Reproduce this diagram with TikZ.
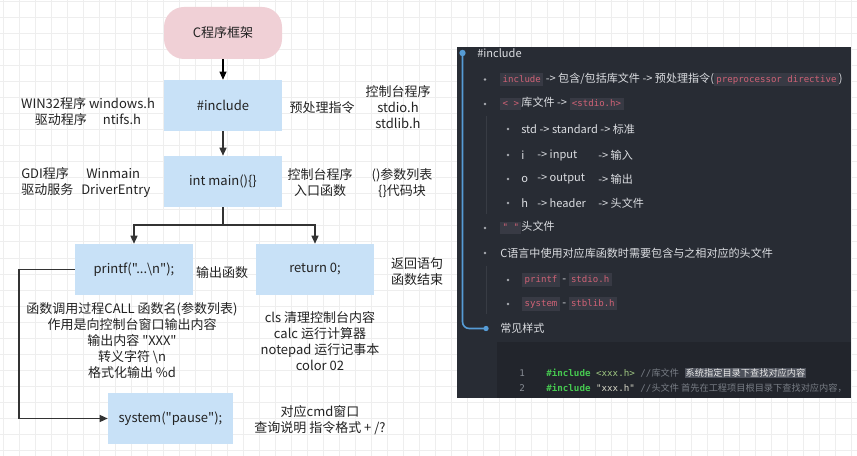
\documentclass[tikz,border=0pt]{standalone}
\usepackage{fontspec}
\setmainfont{Noto Sans CJK SC}
\newfontfamily\cjk{Noto Sans CJK SC}
\newfontfamily\codefont{DejaVu Sans Mono}
\usetikzlibrary{arrows.meta}
\definecolor{gridc}{RGB}{238,238,238}
\definecolor{boxblue}{RGB}{200,225,247}
\definecolor{startpink}{RGB}{240,208,214}
\definecolor{txtc}{RGB}{34,34,34}
\definecolor{linec}{RGB}{51,51,51}
\definecolor{panelbg}{RGB}{40,44,52}
\definecolor{codebg}{RGB}{34,37,44}
\definecolor{ptext}{RGB}{220,222,226}
\definecolor{pillbg}{RGB}{56,58,68}
\definecolor{pillfg}{RGB}{208,98,118}
\definecolor{tlblue}{RGB}{86,156,214}
\definecolor{guide}{RGB}{56,60,68}
\definecolor{bulletc}{RGB}{170,173,178}
\definecolor{kwgreen}{RGB}{70,200,80}
\definecolor{strc}{RGB}{160,200,130}
\definecolor{strc2}{RGB}{215,215,200}
\definecolor{cmt}{RGB}{120,125,133}
\definecolor{hlbg}{RGB}{78,82,92}
\definecolor{hlfg}{RGB}{235,235,235}
\definecolor{lnum}{RGB}{135,140,148}
\newcommand\pill[1]{{\setlength{\fboxsep}{1.8pt}\colorbox{pillbg}{\codefont\fontsize{6.8}{8}\selectfont\color{pillfg}\vphantom{(}#1}}}
\tikzset{
 diag/.style={font=\cjk\fontsize{9.75}{12}\selectfont, text=txtc, align=center, inner sep=0pt},
 stepbox/.style={diag, fill=boxblue, minimum width=88.5pt, minimum height=38.25pt},
 startbox/.style={diag, fill=startpink, rounded corners=15pt, minimum width=88.5pt, minimum height=39pt},
 conn/.style={draw=linec, line width=1.1pt},
 arr/.style={conn, -{Triangle[length=6pt,width=5.2pt]}},
 ptxt/.style={font=\cjk\fontsize{8.3}{10}\selectfont, text=ptext, inner sep=0pt, anchor=west},
 ctxt/.style={font=\codefont\fontsize{6.9}{8}\selectfont, inner sep=0pt, anchor=west},
 bul/.style={fill=bulletc},
}
\begin{document}
\begin{tikzpicture}[x=0.75pt,y=-0.75pt]
\useasboundingbox (0,0) rectangle (857,456);
\fill[white] (0,0) rectangle (857,456);
% grid
\foreach \i in {0,...,53} {\draw[gridc, line width=0.75pt] ({3.5+16*\i},0) -- ({3.5+16*\i},456);}
\foreach \j in {0,...,28} {\draw[gridc, line width=0.75pt] (0,{2+16*\j}) -- (857,{2+16*\j});}

% flow nodes
\node[startbox] (start) at (223,33) {C程序框架};
\node[stepbox] (inc) at (223,105.5) {\#include};
\node[stepbox] (main) at (223,181.5) {int main()\{\}};
\node[stepbox] (printf) at (134,269.5) {printf("...\textbackslash n");};
\node[stepbox] (ret) at (315,269.5) {return 0;};
\node[stepbox, minimum width=93.75pt] (sys) at (170.5,418.5) {system("pause");};

% labels
\node[diag] (win) at (88,112) {WIN32程序 windows.h\\驱动程序\hspace{12pt}ntifs.h};
\node[diag] (pre) at (322,108) {预处理指令};
\node[diag] (con) at (398,107) {控制台程序\\stdio.h\\stdlib.h};
\node[diag, align=left, anchor=west] (gdi) at (21,183) {\makebox[48.75pt][l]{GDI程序}Winmain\\\makebox[45pt][l]{驱动服务}DriverEntry};
\node[diag] (entry) at (320,183) {控制台程序\\入口函数};
\node[diag] (par) at (402,183) {()参数列表\\\{\}代码块};
\node[diag] (outf) at (222,273) {输出函数};
\node[diag] (retl) at (417,272) {返回语句\\函数结束};
\node[diag] (pdesc) at (132,341) {函数调用过程CALL 函数名(参数列表)\\作用是向控制台窗口输出内容\\输出内容 "XXX"\\转义字符 \textbackslash n\\格式化输出 \%d};
\node[diag] (rdesc) at (320,341) {cls 清理控制台内容\\calc 运行计算器\\notepad 运行记事本\\color 02};
\node[diag] (sdesc) at (320,420) {对应cmd窗口\\查询说明 指令格式 + /?};

% connectors
\draw[arr, line width=0.8pt, draw=black] (start) -- (inc);
\draw[arr] (inc) -- (main);
\coordinate (sp) at (223,225);
\draw[conn] (main) -- (sp);
\draw[arr] (sp) -| (printf);
\draw[arr] (sp) -| (ret);
\coordinate (lp) at (19,269.5);
\draw[arr] (printf.west) -- (lp) |- (sys.west);

% right panel
\fill[panelbg] (457,47) rectangle (851,398);
\fill[codebg] (497,342) rectangle (851,398);
\draw[guide, line width=0.75pt] (486,116) -- (486,214);
\draw[guide, line width=0.75pt] (486,266) -- (486,314);
\draw[tlblue, line width=1.2pt, rounded corners=5pt] (462.5,53) -- (462.5,328.5) -- (486,328.5);
\fill[tlblue] (462.5,53) circle[radius=2.4pt];
\fill[tlblue] (486,328.5) circle[radius=2pt];

\node[ptxt] (h) at (477,53) {\#include};
\foreach \yy in {79.5,104,228,253} {\fill[bul] (485,\yy) circle[radius=1.1pt];}
\foreach \yy in {129,155,179,203,280,304} {\fill[bul] (508,\yy) circle[radius=1.1pt];}
\node[ptxt] (l1) at (500,79.5) {\pill{include} -> 包含/包括库文件 -> 预处理指令(\pill{preprocessor directive})};
\node[ptxt] (l2) at (500,104) {\pill{< >}库文件 -> \pill{<stdio.h>}};
\node[ptxt] (l3) at (521,129) {std -> standard -> 标准};
\node[ptxt] (l4a) at (521,155) {i};
\node[ptxt] (l4b) at (537,155) {-> input};
\node[ptxt] (l4c) at (598,155) {-> 输入};
\node[ptxt] (l5a) at (521,179) {o};
\node[ptxt] (l5b) at (537,179) {-> output};
\node[ptxt] (l5c) at (598,179) {-> 输出};
\node[ptxt] (l6a) at (521,203) {h};
\node[ptxt] (l6b) at (537,203) {-> header};
\node[ptxt] (l6c) at (598,203) {-> 头文件};
\node[ptxt] (l7) at (500,228) {\pill{" "}头文件};
\node[ptxt] (l8) at (500,253) {C语言中使用对应库函数时需要包含与之相对应的头文件};
\node[ptxt] (l9) at (522,280) {\pill{printf} - \pill{stdio.h}};
\node[ptxt] (l10) at (522,304) {\pill{system} - \pill{stblib.h}};
\node[ptxt] (l11) at (500,328.5) {常见样式};

\node[ctxt, text=lnum] (n1) at (519,373) {1};
\node[ctxt, text=lnum] (n2) at (519,388) {2};
\begin{scope}
\clip (497,342) rectangle (851,398);
\node[ctxt] (c1) at (546,373) {\textcolor{kwgreen}{\bfseries\#include} \textcolor{strc}{<xxx.h>} \textcolor{cmt}{//{\cjk 库文件}} {\setlength{\fboxsep}{0.8pt}\colorbox{hlbg}{\textcolor{hlfg}{\cjk 系统指定目录下查找对应内容}}}};
\node[ctxt] (c2) at (546,388) {\textcolor{kwgreen}{\bfseries\#include} \textcolor{strc2}{"xxx.h"} \textcolor{cmt}{//{\cjk 头文件 首先在工程项目根目录下查找对应内容，}}};
\end{scope}
\end{tikzpicture}
\end{document}
